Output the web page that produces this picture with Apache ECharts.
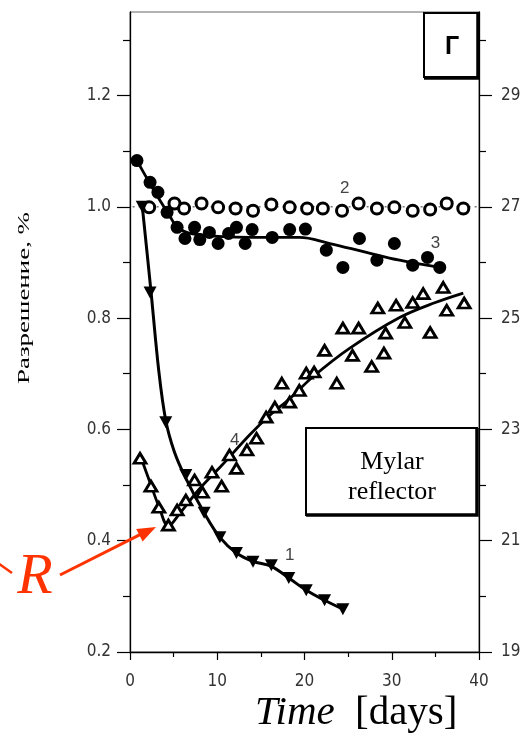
<!DOCTYPE html>
<html>
<head>
<meta charset="utf-8">
<script src="https://cdn.jsdelivr.net/npm/echarts@6/dist/echarts.min.js"></script>
<style>
html,body{margin:0;padding:0;background:#fff;}
#chart{width:527px;height:736px;}
</style>
</head>
<body>
<div id="chart"></div>
<script>
// ---- data ----
const xTicks = [0, 10, 20, 30, 40];
const leftMajor = [0.2, 0.4, 0.6, 0.8, 1.0, 1.2];
const leftMinor = [0.3, 0.5, 0.7, 0.9, 1.1, 1.3];
const rightMajor = [19, 21, 23, 25, 27, 29];
const rightMinor = [20, 22, 24, 26, 28, 30];

// curve 1: filled inverted triangles
const s1Points = [[1.4,1.0],[2.3,0.846],[4.1,0.613],[6.4,0.518],[8.5,0.450],[10.3,0.406],[12.2,0.378],[14.1,0.362],[16.2,0.356],[18.2,0.333],[20.2,0.311],[22.3,0.293],[24.4,0.277]];
const s1Fit = [[1.4,1.002],[2.4,0.849],[3.3,0.705],[4.1,0.616],[5.1,0.559],[6.4,0.512],[8.5,0.450],[10.3,0.406],[12.2,0.378],[14.1,0.363],[16.2,0.354],[18.2,0.333],[20.2,0.311],[22.3,0.293],[24.4,0.277]];

// curve 2: open circles
const s2Points = [[2.2,0.999],[5.1,1.006],[6.2,0.997],[8.2,1.006],[10.1,0.999],[12.1,0.997],[14.1,0.993],[16.2,1.004],[18.3,0.999],[20.3,0.997],[22.1,0.997],[24.3,0.993],[26.2,1.006],[28.3,0.997],[30.3,0.999],[32.4,0.993],[34.4,0.995],[36.3,1.006],[38.2,0.997]];
const s2Fit = [[0.3,1.0],[40,1.0]];

// curve 3: filled circles
const s3Points = [[0.8,1.083],[2.3,1.044],[3.2,1.026],[4.25,0.990],[5.4,0.963],[6.3,0.943],[7.4,0.963],[8.0,0.941],[9.1,0.954],[10.1,0.934],[11.3,0.952],[12.2,0.963],[13.2,0.934],[14.0,0.959],[16.3,0.945],[18.3,0.959],[20.1,0.960],[22.5,0.922],[24.4,0.891],[26.3,0.943],[28.3,0.904],[30.3,0.934],[32.4,0.895],[34.1,0.909],[35.5,0.891]];
const s3Fit = [[0.8,1.083],[2.2,1.044],[3.3,1.015],[4.5,0.985],[5.6,0.961],[7.9,0.950],[13.7,0.945],[19.4,0.945],[22.9,0.934],[27.1,0.918],[30.9,0.904],[35.5,0.891]];

// curve 4: open triangles
const s4Points = [[1.15,0.548],[2.4,0.498],[3.3,0.460],[4.4,0.428],[5.4,0.455],[6.4,0.473],[7.4,0.509],[8.3,0.487],[9.4,0.523],[10.5,0.498],[11.4,0.554],[12.2,0.530],[13.4,0.563],[14.5,0.584],[15.6,0.622],[16.6,0.640],[17.4,0.683],[18.3,0.649],[19.4,0.670],[20.2,0.701],[21.1,0.703],[22.3,0.742],[23.7,0.683],[24.4,0.782],[25.5,0.733],[26.2,0.782],[27.7,0.713],[28.4,0.818],[29.1,0.737],[29.3,0.773],[30.5,0.823],[31.5,0.792],[32.4,0.828],[33.6,0.844],[34.4,0.774],[35.9,0.855],[36.3,0.814],[38.3,0.827]];
const s4Fit = [[1.15,0.554],[2.4,0.500],[3.3,0.462],[4.4,0.426],[5.6,0.447],[7.9,0.492],[10.5,0.535],[13.7,0.590],[16.0,0.625],[18.3,0.655],[21.0,0.695],[25.2,0.746],[30.9,0.801],[35.0,0.828],[38.2,0.845]];

const curveLabels = [['1',18.3,0.374],['2',24.6,1.034],['3',35.0,0.935],['4',12.0,0.581]];

// ---- chart ----
const chart = echarts.init(document.getElementById('chart'), null, {renderer:'canvas'});
const tickFont = "'Liberation Sans Narrow','DejaVu Sans Condensed',sans-serif";
const serif = "'Liberation Serif','Times New Roman',serif";
const Y0 = 0.2, Y1 = 1.35;
const R0 = 19, R1 = 19 + (Y1 - Y0) * 10;

function yAx(opts){
  return Object.assign({
    type:'value', min:Y0, max:Y1, splitLine:{show:false},
    axisLine:{show:true, lineStyle:{color:'#000', width:1.3}},
  }, opts);
}

const option = {
  animation:false,
  backgroundColor:'#fff',
  grid:{left:130, right:48, top:12, bottom:84, show:true, borderColor:'#666', borderWidth:1},
  xAxis:[{
    type:'value', min:0, max:40, interval:10,
    splitLine:{show:false},
    axisLine:{show:true, onZero:false, lineStyle:{color:'#000', width:1.3}},
    axisTick:{show:true, length:8, lineStyle:{color:'#000', width:1.2}},
    minorTick:{show:true, splitNumber:2, length:5, lineStyle:{color:'#000', width:1.2}},
    axisLabel:{show:true, margin:21, color:'#333', fontSize:17, fontFamily:tickFont,
      customValues:xTicks},
  }],
  yAxis:[
    yAx({position:'left',
      axisTick:{show:true, length:13, customValues:leftMajor, lineStyle:{color:'#000', width:1.2}},
      axisLabel:{show:true, margin:19, color:'#333', fontSize:17, fontFamily:tickFont,
        customValues:leftMajor, formatter:v=>v.toFixed(1)}}),
    yAx({position:'left', axisLine:{show:false},
      axisTick:{show:true, length:7, customValues:leftMinor, lineStyle:{color:'#000', width:1.2}},
      axisLabel:{show:false}}),
    yAx({position:'right', min:R0, max:R1,
      axisTick:{show:true, length:13, customValues:rightMajor, lineStyle:{color:'#000', width:1.2}},
      axisLabel:{show:true, margin:22, color:'#333', fontSize:17, fontFamily:tickFont,
        customValues:rightMajor, formatter:v=>String(v)}}),
    yAx({position:'right', min:R0, max:R1, axisLine:{show:false},
      axisTick:{show:true, length:7, customValues:rightMinor, lineStyle:{color:'#000', width:1.2}},
      axisLabel:{show:false}}),
  ],
  series:[
    {type:'line', data:s2Fit, showSymbol:false, lineStyle:{color:'#777', width:1.5, type:[2,4]}, z:2, silent:true},
    {type:'line', data:s1Fit, showSymbol:false, smooth:0.35, lineStyle:{color:'#000', width:3}, z:2},
    {type:'line', data:s3Fit, showSymbol:false, smooth:0.4, lineStyle:{color:'#000', width:2.8}, z:2},
    {type:'line', data:s4Fit, showSymbol:false, smooth:0.35, lineStyle:{color:'#000', width:2.8}, z:2},
    {type:'scatter', data:s3Points, symbol:'circle', symbolSize:13, itemStyle:{color:'#000', opacity:1}, z:3},
    {type:'scatter', data:s2Points, symbol:'circle', symbolSize:11, itemStyle:{color:'#fff', borderColor:'#000', borderWidth:3, opacity:1}, z:3},
    {type:'scatter', data:s1Points, symbol:'triangle', symbolRotate:180, symbolSize:[13,12], itemStyle:{color:'#000', opacity:1}, z:3},
    {type:'scatter', data:s4Points, symbol:'triangle', symbolSize:[12,10], itemStyle:{color:'#fff', borderColor:'#000', borderWidth:2.8, opacity:1}, z:4},
  ]
};
chart.setOption(option);

// annotations
const g = [];
// axis name (stretched along its length like the reference)
g.push({type:'text', x:25, y:298, rotation:Math.PI/2, scaleX:1.58, scaleY:1,
  style:{text:'Разрешение, %', font:"17px "+serif, fill:'#000', align:'center', verticalAlign:'middle'}});
// x title
g.push({type:'text', x:255, y:713, style:{text:'Time', font:"italic 41px "+serif, fill:'#000', align:'left', verticalAlign:'middle'}});
g.push({type:'text', x:355, y:713, style:{text:'[days]', font:"41px "+serif, fill:'#000', align:'left', verticalAlign:'middle'}});
// curve numbers
curveLabels.forEach(([t,x,y])=>{
  const p = chart.convertToPixel({xAxisIndex:0, yAxisIndex:0}, [x,y]);
  g.push({type:'text', x:p[0], y:p[1], z:10, style:{text:t, font:"17px 'Liberation Sans','DejaVu Sans',sans-serif", fill:'#444', align:'center', verticalAlign:'middle'}});
});
// Г box
g.push({type:'rect', shape:{x:424, y:13, width:54, height:64}, style:{fill:'#fff', stroke:'#000', lineWidth:2}, z:10});
g.push({type:'polyline', shape:{points:[[478,13],[478,78],[424,78]]}, style:{stroke:'#000', lineWidth:3.5, fill:null}, z:11});
g.push({type:'text', x:452, y:47, z:12, style:{text:'Г', font:"bold 25px 'Liberation Sans','DejaVu Sans',sans-serif", fill:'#000', align:'center', verticalAlign:'middle'}});
// Mylar box
g.push({type:'rect', shape:{x:306, y:428, width:171, height:87}, style:{fill:'#fff', stroke:'#000', lineWidth:2}, z:10});
g.push({type:'polyline', shape:{points:[[477,428],[477,515],[306,515]]}, style:{stroke:'#000', lineWidth:3.5, fill:null}, z:11});
g.push({type:'text', x:392, y:462, z:12, style:{text:'Mylar', font:"26px "+serif, fill:'#000', align:'center', verticalAlign:'middle'}});
g.push({type:'text', x:392, y:492, z:12, style:{text:'reflector', font:"26px "+serif, fill:'#000', align:'center', verticalAlign:'middle'}});
// red R with arrow
const red = '#ff3300';
g.push({type:'text', x:35, y:578, z:12, style:{text:'R', font:"italic 58px "+serif, fill:red, align:'center', verticalAlign:'middle'}});
g.push({type:'line', shape:{x1:-2, y1:563, x2:12, y2:573}, style:{stroke:red, lineWidth:2.5}, z:12});
g.push({type:'line', shape:{x1:60, y1:575, x2:140, y2:534.6}, style:{stroke:red, lineWidth:3}, z:12});
g.push({type:'polygon', shape:{points:[[156,527],[142.6,541.4],[136.2,528.9]]}, style:{fill:red}, z:12});

chart.setOption({graphic:{elements:g}});
</script>
</body>
</html>
